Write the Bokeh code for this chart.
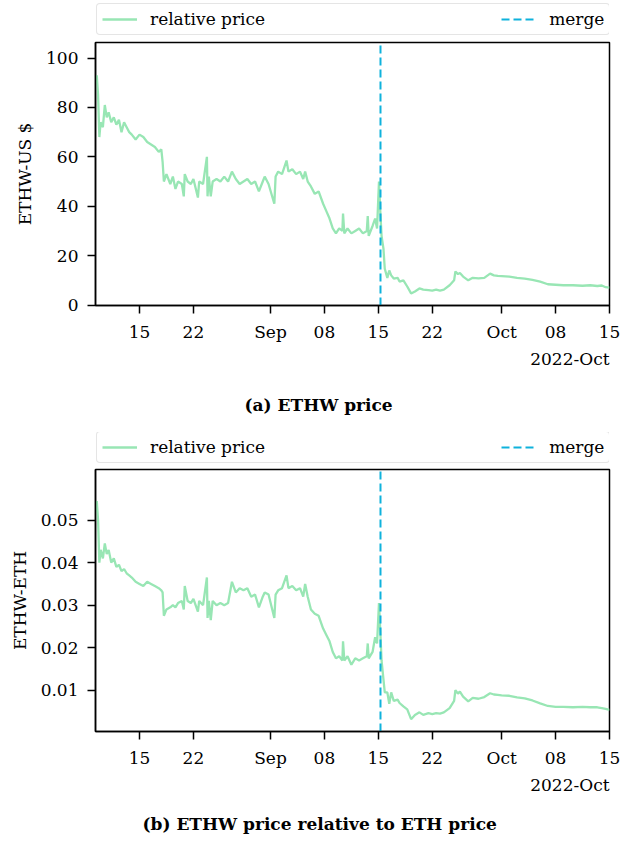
import pandas as pd
from bokeh.plotting import figure
from bokeh.layouts import column
from bokeh.models import Range1d, FixedTicker, Legend, LegendItem, Title
from bokeh.embed import file_html
from bokeh.resources import INLINE

# ---------------- data ----------------
timestamps = [
    "2022-08-09 07:00", "2022-08-09 11:00", "2022-08-09 15:00", "2022-08-09 19:00", "2022-08-09 23:00",
    "2022-08-10 06:00", "2022-08-10 12:00", "2022-08-10 18:00", "2022-08-11 00:00", "2022-08-11 08:00",
    "2022-08-11 16:00", "2022-08-12 00:00", "2022-08-12 08:00", "2022-08-12 16:00", "2022-08-13 00:00",
    "2022-08-13 08:00", "2022-08-13 16:00", "2022-08-14 00:00", "2022-08-14 12:00", "2022-08-15 00:00",
    "2022-08-15 12:00", "2022-08-16 00:00", "2022-08-16 12:00", "2022-08-17 00:00", "2022-08-17 12:00",
    "2022-08-17 20:00", "2022-08-18 00:00", "2022-08-18 04:00", "2022-08-18 12:00", "2022-08-19 00:00",
    "2022-08-19 08:00", "2022-08-19 16:00", "2022-08-20 00:00", "2022-08-20 12:00", "2022-08-20 18:00",
    "2022-08-20 21:00", "2022-08-21 06:00", "2022-08-21 16:00", "2022-08-22 00:00", "2022-08-22 14:00",
    "2022-08-22 18:00", "2022-08-23 06:00", "2022-08-23 18:00", "2022-08-23 20:00", "2022-08-24 00:00",
    "2022-08-24 06:00", "2022-08-24 12:00", "2022-08-25 00:00", "2022-08-25 12:00", "2022-08-26 00:00",
    "2022-08-26 12:00", "2022-08-27 00:00", "2022-08-27 12:00", "2022-08-28 00:00", "2022-08-28 12:00",
    "2022-08-29 00:00", "2022-08-29 12:00", "2022-08-30 00:00", "2022-08-30 12:00", "2022-08-31 00:00",
    "2022-08-31 06:00", "2022-08-31 18:00", "2022-09-01 12:00", "2022-09-01 16:00", "2022-09-02 00:00",
    "2022-09-02 12:00", "2022-09-03 02:00", "2022-09-03 08:00", "2022-09-03 20:00", "2022-09-04 08:00",
    "2022-09-04 20:00", "2022-09-05 06:00", "2022-09-05 12:00", "2022-09-05 20:00", "2022-09-06 06:00",
    "2022-09-06 18:00", "2022-09-07 06:00", "2022-09-07 20:00", "2022-09-08 06:00", "2022-09-08 16:00",
    "2022-09-09 02:00", "2022-09-09 12:00", "2022-09-09 22:00", "2022-09-10 08:00", "2022-09-10 10:00",
    "2022-09-10 14:00", "2022-09-11 00:00", "2022-09-11 12:00", "2022-09-12 00:00", "2022-09-12 12:00",
    "2022-09-13 00:00", "2022-09-13 12:00", "2022-09-13 15:00", "2022-09-13 18:00", "2022-09-14 06:00",
    "2022-09-14 14:00", "2022-09-14 20:00", "2022-09-15 02:00", "2022-09-15 06:00", "2022-09-15 10:00",
    "2022-09-15 16:00", "2022-09-15 20:00", "2022-09-16 04:00", "2022-09-16 10:00", "2022-09-16 16:00",
    "2022-09-17 00:00", "2022-09-17 12:00", "2022-09-17 18:00", "2022-09-18 06:00", "2022-09-18 18:00",
    "2022-09-19 06:00", "2022-09-19 18:00", "2022-09-20 08:00", "2022-09-20 20:00", "2022-09-21 12:00",
    "2022-09-22 00:00", "2022-09-22 12:00", "2022-09-23 00:00", "2022-09-23 12:00", "2022-09-24 06:00",
    "2022-09-24 20:00", "2022-09-25 00:00", "2022-09-25 08:00", "2022-09-25 14:00", "2022-09-26 00:00",
    "2022-09-26 16:00", "2022-09-27 06:00", "2022-09-28 00:00", "2022-09-28 18:00", "2022-09-29 12:00",
    "2022-09-30 00:00", "2022-09-30 12:00", "2022-10-01 00:00", "2022-10-02 00:00", "2022-10-03 00:00",
    "2022-10-04 00:00", "2022-10-05 00:00", "2022-10-06 00:00", "2022-10-07 00:00", "2022-10-08 00:00",
    "2022-10-09 00:00", "2022-10-10 06:00", "2022-10-11 12:00", "2022-10-12 12:00", "2022-10-13 10:00",
    "2022-10-14 00:00", "2022-10-14 12:00", "2022-10-15 00:00",
]

usd_price = [
    90, 93, 85, 68, 74,
    72, 81, 76, 78, 74,
    76, 73, 75, 70, 74,
    72, 70, 69, 67, 69,
    68, 66, 65, 64, 62,
    63, 58, 50, 53, 49,
    52, 47, 50, 49, 44,
    53, 50, 49, 51, 43.5,
    50, 49, 60, 44, 52,
    44, 50, 51, 50, 52,
    50, 54, 51, 49, 50,
    51, 49, 50, 46, 50,
    52, 49, 41, 52, 54,
    53, 58.5, 54, 55, 53,
    54, 51, 54, 50, 48,
    45, 46, 41, 38, 35,
    31, 29, 31, 30, 37,
    29, 31, 29, 30, 31,
    29, 30, 36, 28, 32,
    35, 31, 50, 38, 28,
    22.7, 14.7, 11, 14, 12,
    10.7, 11, 9.5, 10, 7.5,
    4.7, 5.5, 6.7, 6.2, 6.0,
    5.8, 6.2, 5.8, 6.2, 8,
    10, 13.6, 12.5, 13, 11.5,
    10, 11, 10.8, 11, 12.7,
    12, 11.8, 11.7, 11.5, 11,
    10.7, 10.2, 9.5, 8.4, 8.2,
    8.0, 8.0, 7.8, 8.0, 7.7,
    7.9, 7.2, 7.0,
]

eth_ratio = [
    0.052, 0.0545, 0.050, 0.040, 0.043,
    0.041, 0.0445, 0.042, 0.043, 0.040,
    0.041, 0.039, 0.0395, 0.038, 0.0385,
    0.0375, 0.037, 0.0365, 0.0355, 0.035,
    0.0345, 0.0355, 0.035, 0.0345, 0.034,
    0.0335, 0.033, 0.0275, 0.029, 0.0295,
    0.030, 0.0295, 0.0305, 0.031, 0.029,
    0.0345, 0.031, 0.0305, 0.0315, 0.0285,
    0.031, 0.030, 0.0365, 0.027, 0.031,
    0.0265, 0.031, 0.030, 0.0305, 0.030,
    0.0305, 0.0355, 0.033, 0.034, 0.0335,
    0.034, 0.032, 0.0325, 0.0295, 0.032,
    0.033, 0.0325, 0.027, 0.0325, 0.0335,
    0.034, 0.037, 0.034, 0.0345, 0.0335,
    0.034, 0.032, 0.035, 0.032, 0.029,
    0.028, 0.0275, 0.0245, 0.023, 0.0215,
    0.019, 0.0175, 0.018, 0.017, 0.0215,
    0.017, 0.018, 0.016, 0.0175, 0.017,
    0.0175, 0.018, 0.021, 0.0175, 0.019,
    0.0225, 0.021, 0.0305, 0.024, 0.017,
    0.0125, 0.0095, 0.0095, 0.0068, 0.0095,
    0.0075, 0.0078, 0.007, 0.0062, 0.0055,
    0.0032, 0.0042, 0.0048, 0.0042, 0.0046,
    0.0044, 0.0046, 0.0045, 0.0048, 0.0058,
    0.0075, 0.0100, 0.0092, 0.0097, 0.0085,
    0.0074, 0.0082, 0.0080, 0.0084, 0.0093,
    0.0090, 0.0089, 0.0088, 0.0087, 0.0083,
    0.0081, 0.0076, 0.0069, 0.0063, 0.0061,
    0.0061, 0.0060, 0.0061, 0.0060, 0.0060,
    0.0058, 0.0056, 0.0054,
]

merge_time = "2022-09-15 06:42"
x_start = "2022-08-09 07:00"
x_end = "2022-10-15 00:00"

x_tick_dates = ["2022-08-15", "2022-08-22", "2022-09-01", "2022-09-08", "2022-09-15",
                "2022-09-22", "2022-10-01", "2022-10-08", "2022-10-15"]
x_tick_labels = ["15", "22", "Sep", "08", "15", "22", "Oct", "08", "15"]
x_offset_label = "2022-Oct"

usd_ticks = [0, 20, 40, 60, 80, 100]
usd_range = (-0.2, 106.3)
eth_ticks = [0.01, 0.02, 0.03, 0.04, 0.05]
eth_range = (0.0003, 0.0619)

series_label = "relative price"
merge_label = "merge"
y_labels = ["ETHW-US $", "ETHW-ETH"]
captions = ["(a) ETHW price", "(b) ETHW price relative to ETH price"]

# ---------------- styling ----------------
PRICE_COLOR = "#98e6b4"
MERGE_COLOR = "#0fb2dc"
FONT = "DejaVu Serif"
FS = "17px"
BORDER_L, BORDER_R, FRAME_W = 95, 16, 514
PRICE_LINE = dict(line_color=PRICE_COLOR, line_width=2.3)
MERGE_LINE = dict(line_color=MERGE_COLOR, line_width=2, line_dash="8 4")

dates = pd.to_datetime(pd.Series(timestamps))
merge_dt = pd.Timestamp(merge_time)
tick_ms = [int(pd.Timestamp(d).value // 10**6) for d in x_tick_dates]


def make_legend_strip(values, y_rng, height):
    """A thin strip above a panel that holds its legend, spanning the frame width.
    The strip plots the same series, but its y-range lies above the data, so only
    the legend (with its glyph samples) is visible."""
    s = figure(width=BORDER_L + FRAME_W + BORDER_R, height=height,
               output_backend="svg", toolbar_location=None,
               x_axis_location=None, y_axis_location=None,
               x_range=Range1d(pd.Timestamp(x_start), pd.Timestamp(x_end)),
               y_range=Range1d(y_rng[1] * 10, y_rng[1] * 11),
               min_border_left=BORDER_L, min_border_right=BORDER_R,
               min_border_top=0, min_border_bottom=0)
    s.grid.visible = False
    s.outline_line_color = None
    s.background_fill_color = "white"
    s.border_fill_color = "white"
    r_price = s.line(dates, values, **PRICE_LINE)
    r_merge = s.segment(x0=[merge_dt], y0=[y_rng[0]], x1=[merge_dt], y1=[y_rng[1]], **MERGE_LINE)
    legend = Legend(items=[LegendItem(label=series_label, renderers=[r_price]),
                           LegendItem(label=merge_label, renderers=[r_merge])],
                    orientation="horizontal", location="bottom_left",
                    spacing=236, glyph_width=35, glyph_height=20, label_standoff=13,
                    padding=5, margin=1,
                    border_line_color="#cccccc", border_line_width=1.5,
                    label_text_font=FONT, label_text_font_size=FS,
                    label_text_color="black", background_fill_alpha=1.0)
    try:
        legend.border_radius = 4
    except (AttributeError, ValueError):
        pass
    s.add_layout(legend, "center")
    return s


def make_panel(values, y_ticks, y_rng, y_label, caption, caption_offset,
               height, top, bottom, caption_standoff):
    p = figure(width=BORDER_L + FRAME_W + BORDER_R, height=height,
               output_backend="svg", toolbar_location=None,
               x_axis_type="datetime",
               x_range=Range1d(pd.Timestamp(x_start), pd.Timestamp(x_end)),
               y_range=Range1d(*y_rng),
               min_border_left=BORDER_L, min_border_right=BORDER_R, min_border_top=top,
               min_border_bottom=bottom)
    p.grid.visible = False
    p.outline_line_color = "black"
    p.outline_line_width = 1.5
    p.background_fill_color = "white"
    p.border_fill_color = "white"

    p.line(dates, values, **PRICE_LINE)
    p.segment(x0=[merge_dt], y0=[y_rng[0]], x1=[merge_dt], y1=[y_rng[1]], **MERGE_LINE)

    for ax in (p.xaxis[0], p.yaxis[0]):
        ax.axis_line_width = 1.5
        ax.major_tick_line_width = 1.5
        ax.major_tick_out = 8
        ax.major_tick_in = 0
        ax.minor_tick_line_color = None
        ax.major_label_text_font = FONT
        ax.major_label_text_font_size = FS
        ax.major_label_text_color = "black"
        ax.axis_label_text_font = FONT
        ax.axis_label_text_font_size = FS
        ax.axis_label_text_font_style = "normal"
        ax.axis_label_text_color = "black"

    xa = p.xaxis[0]
    xa.ticker = FixedTicker(ticks=tick_ms)
    xa.major_label_overrides = {t: lab for t, lab in zip(tick_ms, x_tick_labels)}
    xa.major_label_standoff = 8

    ya = p.yaxis[0]
    ya.ticker = FixedTicker(ticks=y_ticks)
    ya.axis_label = y_label
    ya.major_label_standoff = 9
    ya.axis_label_standoff = 8

    # offset label of the date axis, right-aligned under the axis end
    p.add_layout(Title(text=x_offset_label, align="right", vertical_align="top",
                       text_font=FONT, text_font_size=FS, text_font_style="normal",
                       text_color="black", standoff=8), "below")
    # sub-figure caption
    p.add_layout(Title(text=caption, align="left", offset=caption_offset,
                       vertical_align="bottom",
                       text_font=FONT, text_font_size=FS, text_font_style="bold",
                       text_color="black", standoff=caption_standoff), "below")
    return p


leg1 = make_legend_strip(usd_price, usd_range, 36)
p1 = make_panel(usd_price, usd_ticks, usd_range, y_labels[0], captions[0], 149,
                height=396, top=6, bottom=125, caption_standoff=36)
leg2 = make_legend_strip(eth_ratio, eth_range, 32)
p2 = make_panel(eth_ratio, eth_ticks, eth_range, y_labels[1], captions[1], 47,
                height=380, top=5, bottom=109, caption_standoff=22)

layout = column(leg1, p1, leg2, p2, spacing=0)
open("out.html", "w").write(file_html(layout, INLINE))
